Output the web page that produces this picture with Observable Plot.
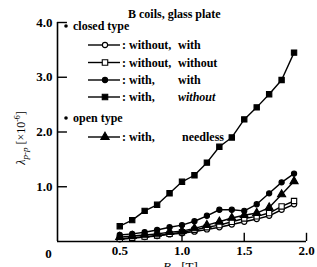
<!DOCTYPE html>
<html><head><meta charset="utf-8">
<script src="https://cdn.jsdelivr.net/npm/d3@7"></script>
<script src="https://cdn.jsdelivr.net/npm/@observablehq/plot@0.6"></script>
<style>body{margin:0;background:#fff}#chart svg{display:block}</style>
</head><body><div id="chart"></div>
<script>
// ---- data ----
const B = [0.5,0.6,0.7,0.8,0.9,1.0,1.1,1.2,1.3,1.4,1.5,1.6,1.7,1.8,1.9];
const withoutWith    = [0.04,0.06,0.08,0.10,0.13,0.15,0.18,0.22,0.26,0.31,0.36,0.41,0.47,0.58,0.68];
const withoutWithout = [0.05,0.07,0.09,0.11,0.14,0.17,0.21,0.26,0.30,0.36,0.42,0.46,0.52,0.64,0.74];
const withWith       = [0.12,0.14,0.17,0.21,0.26,0.30,0.37,0.47,0.58,0.58,0.56,0.68,0.88,1.08,1.24];
const withWithout    = [0.28,0.39,0.56,0.67,0.88,1.09,1.21,1.44,1.73,1.90,2.23,2.45,2.69,2.95,3.45];
const withNeedless   = [0.08,0.10,0.12,0.14,0.17,0.19,0.24,0.30,0.36,0.43,0.48,0.52,0.62,0.86,1.10];
const xTicks = [0.5,1.0,1.5,2.0];
const yTicks = [1.0,2.0,3.0,4.0];
const title = "B coils, glass plate";
const groupLabels = ["closed type","open type"];
const legendFirst  = [": without,",": without,",": with,",": with,",": with,"];
const legendSecond = ["with","without","with","without","needless"];

const series = [
  {key:"ww",  values:withoutWith,    symbol:"circle",   fill:"#fff"},
  {key:"wo",  values:withoutWithout, symbol:"square",   fill:"#fff"},
  {key:"hw",  values:withWith,       symbol:"circle",   fill:"#000"},
  {key:"ho",  values:withWithout,    symbol:"square",   fill:"#000"},
  {key:"hn",  values:withNeedless,   symbol:"triangle", fill:"#000"}
];
const rows = series.flatMap(s => s.values.map((v,i) => ({key:s.key, B:B[i], v})));
const font = "'Liberation Serif','Times New Roman',serif";

const chart = Plot.plot({
  width:317, height:267,
  marginLeft:57, marginRight:11, marginTop:22, marginBottom:26,
  style:{fontFamily:font, background:"#fff", color:"#000"},
  x:{domain:[0,2], axis:null},
  y:{domain:[0,4], axis:null},
  marks:[
    Plot.ruleX([0], {stroke:"#000", strokeWidth:1.6}),
    Plot.ruleY([0], {stroke:"#000", strokeWidth:1.6}),
    Plot.ruleX(xTicks, {y1:0, y2:0.15, stroke:"#000", strokeWidth:1.4}),
    Plot.ruleY(yTicks, {x1:0, x2:0.08, stroke:"#000", strokeWidth:1.4}),
    Plot.axisX({ticks:xTicks, tickSize:0, tickPadding:4, tickFormat:d=>d.toFixed(1), fontSize:13, fontWeight:"bold", label:null}),
    Plot.axisY({ticks:yTicks, tickSize:0, tickPadding:5, tickFormat:d=>d.toFixed(1), fontSize:13, fontWeight:"bold", label:null}),
    Plot.text([0], {x:0, y:0, text:()=>"0", dx:-9, dy:12, fontSize:13, fontWeight:"bold"}),
    Plot.line(rows, {x:"B", y:"v", z:"key", stroke:"#000", strokeWidth:1.4}),
    ...series.map(s => Plot.dot(rows.filter(r => r.key===s.key), {
      x:"B", y:"v", symbol:()=>s.symbol, r:s.symbol==="circle"?2.6:3,
      fill:s.fill, stroke:"#000", strokeWidth:1.1
    }))
  ]
});
document.getElementById("chart").append(chart);

// ---- annotations: title, axis titles, legend ----
const svg = d3.select(chart);
const g = svg.append("g").attr("font-family", font).attr("fill", "#000")
  .attr("text-anchor","start").attr("font-weight","bold");

g.append("text").attr("x",128).attr("y",18).attr("font-size",12).text(title);

// y-axis title
const yt = g.append("text").attr("transform","translate(25,138) rotate(-90)")
  .attr("text-anchor","middle").attr("font-size",12).attr("font-weight","normal");
yt.append("tspan").attr("font-style","italic").text("λ");
yt.append("tspan").attr("font-style","italic").attr("font-size",9).attr("dy",3).text("p-p");
yt.append("tspan").attr("dy",-3).text(" [×10");
yt.append("tspan").attr("font-size",8).attr("dy",-5).text("-6");
yt.append("tspan").attr("dy",5).text("]");

// x-axis title (partly cut by the lower edge, as in the reference)
const xt = g.append("text").attr("x",163).attr("y",271).attr("font-size",13).attr("font-weight","normal");
xt.append("tspan").attr("font-style","italic").text("B");
xt.append("tspan").attr("font-size",9).attr("dy",3).text("m");
xt.append("tspan").attr("dy",-3).text(" [T]");

// legend
const groupY = [26, 118];
groupLabels.forEach((lab,i) => {
  g.append("circle").attr("cx",66).attr("cy",groupY[i]).attr("r",1.8);
  g.append("text").attr("x",73).attr("y",groupY[i]+4).attr("font-size",12).text(lab);
});
const rowY = [45, 62.5, 80, 97, 137];
series.forEach((s,i) => {
  const y = rowY[i];
  g.append("line").attr("x1",88).attr("x2",120).attr("y1",y).attr("y2",y)
    .attr("stroke","#000").attr("stroke-width",1.4);
  const sym = s.symbol==="circle" ? d3.symbolCircle : s.symbol==="square" ? d3.symbolSquare : d3.symbolTriangle;
  const size = s.symbol==="circle" ? Math.PI*2.6*2.6 : 30;
  g.append("path").attr("d", d3.symbol(sym, size)()).attr("transform",`translate(105,${y})`)
    .attr("fill", s.fill).attr("stroke","#000").attr("stroke-width",1.1);
  g.append("text").attr("x",122).attr("y",y+4).attr("font-size",12).text(legendFirst[i]);
  g.append("text").attr("x",i===4?182:178).attr("y",y+4).attr("font-size",12)
    .attr("font-style", i===3 ? "italic" : null).text(legendSecond[i]);
});
</script>
</body></html>
